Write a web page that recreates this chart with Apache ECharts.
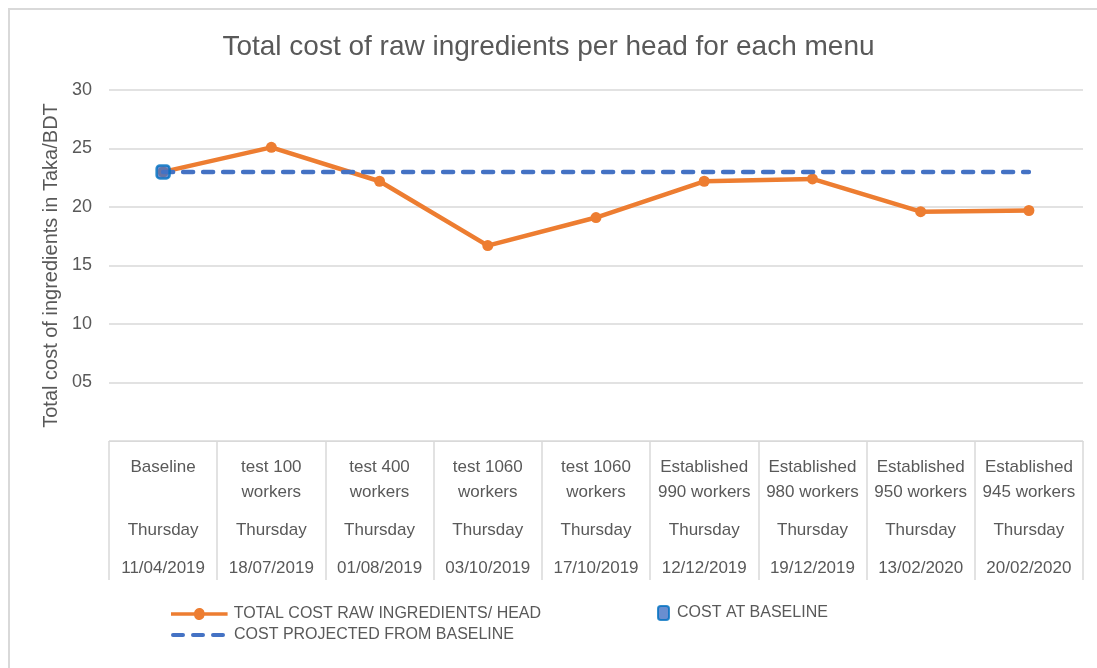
<!DOCTYPE html>
<html>
<head>
<meta charset="utf-8">
<script src="https://cdn.jsdelivr.net/npm/echarts@6/dist/echarts.min.js"></script>
<style>html,body{margin:0;padding:0;background:#fff}#c{width:1097px;height:668px}</style>
</head>
<body>
<div id="c"></div>
<script>
const menuLine1 = ['Baseline','test 100','test 400','test 1060','test 1060','Established','Established','Established','Established'];
const menuLine2 = ['','workers','workers','workers','workers','990 workers','980 workers','950 workers','945 workers'];
const weekdays = ['Thursday','Thursday','Thursday','Thursday','Thursday','Thursday','Thursday','Thursday','Thursday'];
const dates = ['11/04/2019','18/07/2019','01/08/2019','03/10/2019','17/10/2019','12/12/2019','19/12/2019','13/02/2020','20/02/2020'];
const totalCost = [23.0, 25.1, 22.2, 16.7, 19.1, 22.2, 22.4, 19.6, 19.7];
const costAtBaseline = [23.0];
const projectedCost = [23.0, 23.0, 23.0, 23.0, 23.0, 23.0, 23.0, 23.0, 23.0];
const yTicks = {0:'', 5:'05', 10:'10', 15:'15', 20:'20', 25:'25', 30:'30'};

const FONT = "'Liberation Sans', Arial, sans-serif";
const GREY = '#595959';
const chart = echarts.init(document.getElementById('c'), null, {renderer:'canvas'});
const S1 = 'TOTAL COST RAW INGREDIENTS/ HEAD';
const S2 = 'COST AT BASELINE';
const S3 = 'COST PROJECTED FROM BASELINE';

const ICON_LINE_DOT = 'path://M0,4.2h24.1a5.5,5.5 0 0,1 10.8,0h24.1v3.6h-24.1a5.5,5.5 0 0,1 -10.8,0h-24.1z';
const ICON_DASHES = 'path://M2,0h10a2,2 0 0,1 0,4h-10a2,2 0 0,1 0,-4z M22,0h10a2,2 0 0,1 0,4h-10a2,2 0 0,1 0,-4z M42,0h10a2,2 0 0,1 0,4h-10a2,2 0 0,1 0,-4z';

chart.setOption({
  animation: false,
  backgroundColor: '#fff',
  textStyle: {fontFamily: FONT},
  graphic: [{
    type: 'rect', z: -10, silent: true,
    shape: {x: 9, y: 9, width: 2000, height: 2000},
    style: {fill: 'none', stroke: '#d9d9d9', lineWidth: 2}
  }],
  title: {
    text: 'Total cost of raw ingredients per head for each menu',
    left: 'center', top: 28,
    textStyle: {fontFamily: FONT, fontSize: 28, fontWeight: 'normal', color: GREY}
  },
  legend: [
    {data: [{name: S1, icon: ICON_LINE_DOT}], left: 171, top: 606, padding: 0,
     itemWidth: 59, itemHeight: 12, itemGap: 5,
     textStyle: {fontFamily: FONT, fontSize: 16, color: GREY}},
    {data: [{name: S2, icon: 'roundRect'}], left: 657, top: 605, padding: 0,
     itemWidth: 11, itemHeight: 14,
     textStyle: {fontFamily: FONT, fontSize: 16, color: GREY, padding: [0,0,0,3]}},
    {data: [{name: S3, icon: ICON_DASHES}], left: 171, top: 627, padding: 0,
     itemWidth: 56, itemHeight: 4,
     textStyle: {fontFamily: FONT, fontSize: 16, color: GREY, padding: [0,0,0,3]}}
  ],
  grid: {left: 109, right: 14, top: 90, bottom: 227, containLabel: false},
  xAxis: {
    type: 'category',
    boundaryGap: true,
    data: dates.map((d, i) => String(i)),
    axisLine: {show: true, lineStyle: {color: '#d9d9d9', width: 1}},
    axisTick: {show: true, interval: 0, length: 139, lineStyle: {color: '#d9d9d9', width: 1.5}},
    axisLabel: {
      interval: 0, margin: 14, color: GREY,
      formatter: function (v, i) {
        const l2 = menuLine2[i] === '' ? ' ' : menuLine2[i];
        return '{a|' + menuLine1[i] + '}\n{a|' + l2 + '}\n{b|' + weekdays[i] + '}\n{a|' + dates[i] + '}';
      },
      rich: {
        a: {fontFamily: FONT, fontSize: 17, lineHeight: 25, color: GREY},
        b: {fontFamily: FONT, fontSize: 17, lineHeight: 51, color: GREY}
      }
    },
    splitLine: {show: false}
  },
  yAxis: {
    type: 'value', min: 0, max: 30, interval: 5,
    name: 'Total cost of ingredients in Taka/BDT',
    nameLocation: 'middle', nameGap: 44,
    nameTextStyle: {fontFamily: FONT, fontSize: 20, color: GREY},
    axisLine: {show: false}, axisTick: {show: false},
    axisLabel: {margin: 17, fontFamily: FONT, fontSize: 18, color: GREY,
      formatter: v => (v in yTicks ? yTicks[v] : String(v))},
    splitLine: {show: true, lineStyle: {color: '#d9d9d9', width: 1.5}}
  },
  series: [
    {
      name: S1, type: 'line', data: totalCost, z: 2,
      symbol: 'circle', symbolSize: 11, showSymbol: true,
      lineStyle: {color: '#ED7D31', width: 4.5},
      itemStyle: {color: '#ED7D31'}
    },
    {
      name: S3, type: 'line', data: projectedCost, z: 3,
      symbol: 'none', showSymbol: false,
      lineStyle: {color: '#4472C4', width: 4.5, type: [10, 10], cap: 'round'},
      itemStyle: {color: '#4472C4'}
    },
    {
      name: S2, type: 'scatter', data: costAtBaseline, z: 4,
      symbol: 'roundRect', symbolSize: 13,
      itemStyle: {color: '#4472C4', borderColor: '#0070C0', borderWidth: 2.5}
    }
  ]
});
</script>
</body>
</html>
